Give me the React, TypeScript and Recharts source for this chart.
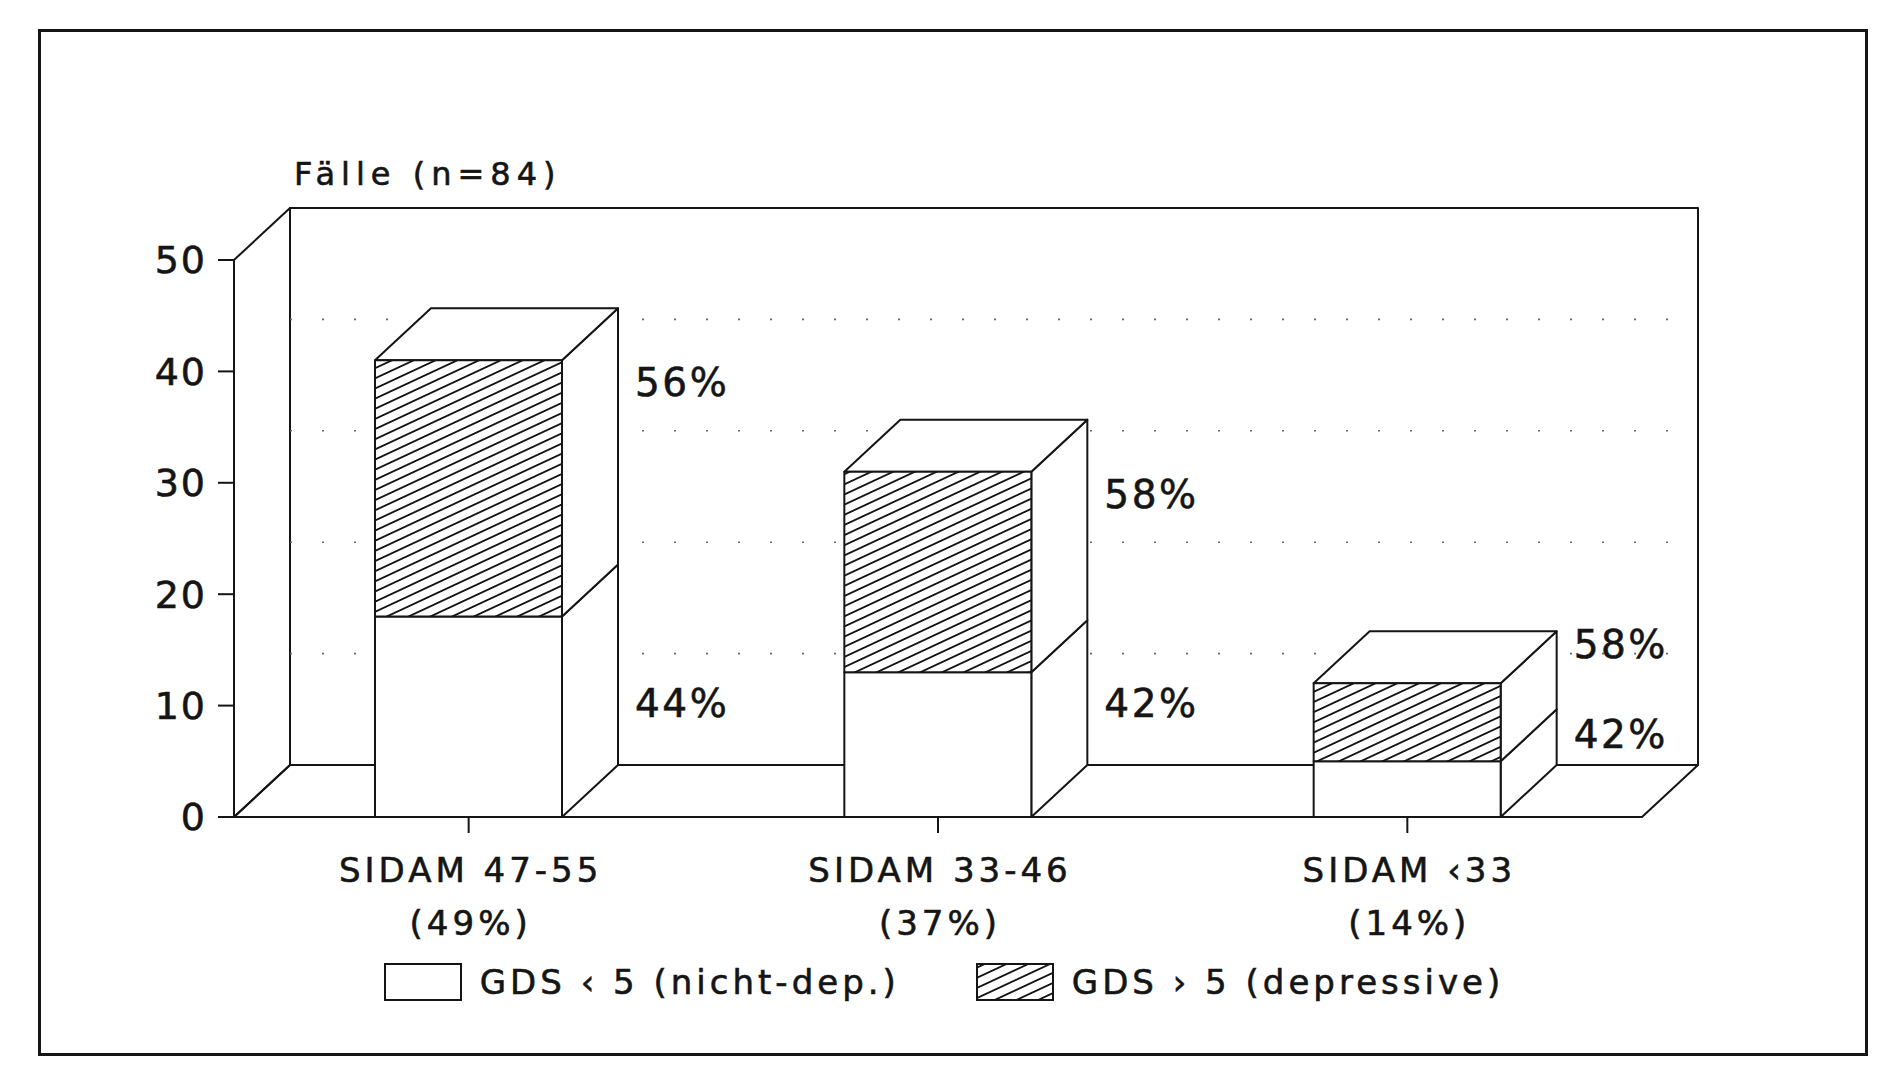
import React from "react";
import {
  BarChart, Bar, XAxis, YAxis, ReferenceArea, ReferenceLine, LabelList, Legend,
} from "recharts";

// Werte aus der Abbildung (Fälle je SIDAM-Gruppe, n = 84)
const categories = ["SIDAM 47-55", "SIDAM 33-46", "SIDAM ‹33"];
const categoryShares = ["(49%)", "(37%)", "(14%)"];
const nichtDep = [18, 13, 5];
const depressive = [23, 18, 7];
const seriesNames = ["GDS ‹ 5 (nicht-dep.)", "GDS › 5 (depressive)"];
const yTicks = [0, 10, 20, 30, 40, 50];
const gridLevels = [10, 20, 30, 40];
const title = "Fälle (n=84)";

const data = categories.map((name, i) => ({
  name,
  nicht: nichtDep[i],
  dep: depressive[i],
}));
const totals = categories.map((_, i) => nichtDep[i] + depressive[i]);

const W = 1902;
const H = 1088;
const DX = 56;   // depth offset of the 3D box
const DY = -52;
const INK = "#151515";
const FONT = "'DejaVu Sans', 'Liberation Sans', sans-serif";
const heavy = { stroke: INK, strokeWidth: 0.6 };

// left wall, back wall, floor + title
function Walls(p: any) {
  const { x, y, width, height } = p;
  const x2 = x + width;
  const y2 = y + height;
  return (
    <g>
      <g stroke={INK} strokeWidth={2} fill="none" strokeLinejoin="round">
        <rect x={x + DX} y={y + DY} width={width} height={height} />
        <polygon points={`${x},${y} ${x + DX},${y + DY} ${x + DX},${y2 + DY} ${x},${y2}`} />
        <polygon points={`${x},${y2} ${x + DX},${y2 + DY} ${x2 + DX},${y2 + DY} ${x2},${y2}`} />
      </g>
      <text x={x + DX + 4} y={y + DY - 23} fontFamily={FONT} fontSize={32}
        letterSpacing={6} fill={INK} {...heavy}>{title}</text>
    </g>
  );
}

function BackGrid(p: any) {
  const { x1, y1, x2, y2 } = p;
  if (x1 == null) return null;
  return (
    <line x1={x1 + DX} y1={y1 + DY} x2={x2 + DX} y2={y2 + DY}
      stroke="#666" strokeWidth={1.6} strokeDasharray="2 30" />
  );
}

const boxShape = (isTop: boolean) => (p: any) => {
  const { x, y, width, height } = p;
  if (!height) return null;
  const r = x + width;
  const b = y + height;
  const side = `${r},${y} ${r + DX},${y + DY} ${r + DX},${b + DY} ${r},${b}`;
  const topFace = `${x},${y} ${x + DX},${y + DY} ${r + DX},${y + DY} ${r},${y}`;
  return (
    <g stroke={INK} strokeWidth={2} strokeLinejoin="round">
      <polygon points={side} fill="#fff" />
      {isTop && <polygon points={topFace} fill="#fff" />}
      <rect x={x} y={y} width={width} height={height} fill={isTop ? "url(#hatch)" : "#fff"} />
    </g>
  );
};

const pctLabel = (isTop: boolean) => (p: any) => {
  const { x, y, width, height, value, index } = p;
  if (!value) return null;
  const unit = height / value;
  const bottom = isTop ? y + height + nichtDep[index] * unit : y + height;
  const totalPx = totals[index] * unit;
  const top = bottom - totalPx;
  let cy: number;
  if (totalPx > 200) {
    cy = isTop ? top + 22 : bottom - 114;
  } else {
    const mid = (top + bottom) / 2 + DY;
    cy = isTop ? mid - 54 : mid + 36;
  }
  const pct = Math.round((value / totals[index]) * 100);
  return (
    <text x={x + width + DX + 17} y={cy + 14} fontFamily={FONT} fontSize={39}
      letterSpacing={2.5} fill={INK} {...heavy}>{`${pct}%`}</text>
  );
};

function CategoryTick(p: any) {
  const { x, y, payload } = p;
  const i = categories.indexOf(payload.value);
  return (
    <text x={x + 2} y={y} textAnchor="middle" fontFamily={FONT} fontSize={34}
      letterSpacing={4} fill={INK} {...heavy}>
      <tspan x={x + 2} dy={47}>{payload.value}</tspan>
      <tspan x={x + 2} dy={53}>{categoryShares[i]}</tspan>
    </text>
  );
}

function LegendContent(p: any) {
  const items = (p.payload && p.payload.length ? p.payload : seriesNames.map((n, i) => ({
    value: n, dataKey: i === 0 ? "nicht" : "dep",
  })));
  return (
    <div style={{ display: "flex", justifyContent: "center", alignItems: "center", gap: 76 }}>
      {items.map((it: any) => (
        <div key={it.dataKey} style={{ display: "flex", alignItems: "center", gap: 18 }}>
          <svg width={78} height={38}>
            <rect x={1} y={1} width={76} height={36}
              fill={it.dataKey === "dep" ? "url(#hatch)" : "#fff"}
              stroke={INK} strokeWidth={2} />
          </svg>
          <span style={{
            fontFamily: FONT, fontSize: 34, letterSpacing: 4, color: INK, lineHeight: 1,
            WebkitTextStroke: `0.6px ${INK}`,
          }}>
            {it.value}
          </span>
        </div>
      ))}
    </div>
  );
}

export default function App() {
  return (
    <div style={{ position: "absolute", left: 0, top: 0, width: W, height: H, background: "#fff" }}>
      <BarChart
        width={W}
        height={H}
        data={data}
        margin={{ top: 260, right: 260, bottom: 211, left: 154 }}
        barSize={187}
      >
        <defs>
          <pattern id="hatch" patternUnits="userSpaceOnUse" width={14} height={9.2}
            patternTransform="rotate(-25)">
            <rect width={14} height={9.2} fill="#fff" />
            <line x1={0} y1={4.6} x2={14} y2={4.6} stroke={INK} strokeWidth={1.8} />
          </pattern>
        </defs>
        <ReferenceArea y1={0} y2={50} shape={Walls} ifOverflow="visible" zIndex={-100} />
        {gridLevels.map((v) => (
          <ReferenceLine key={v} y={v} shape={BackGrid} ifOverflow="visible" zIndex={-90} />
        ))}
        <XAxis
          dataKey="name"
          interval={0}
          height={60}
          tickSize={16}
          tickMargin={2}
          axisLine={{ stroke: INK, strokeWidth: 2 }}
          tickLine={{ stroke: INK, strokeWidth: 2 }}
          tick={<CategoryTick />}
        />
        <YAxis
          domain={[0, 50]}
          ticks={yTicks}
          width={80}
          tickSize={16}
          tickMargin={11}
          axisLine={{ stroke: INK, strokeWidth: 2 }}
          tickLine={{ stroke: INK, strokeWidth: 2 }}
          tick={{ fontFamily: FONT, fontSize: 38, fill: INK, letterSpacing: 2, stroke: INK, strokeWidth: 0.6 }}
        />
        <Legend
          layout="horizontal"
          verticalAlign="middle"
          align="center"
          wrapperStyle={{ left: 240, top: 963, width: 1408 }}
          content={<LegendContent />}
        />
        <Bar dataKey="nicht" name={seriesNames[0]} stackId="s" shape={boxShape(false)}
          isAnimationActive={false}>
          <LabelList dataKey="nicht" content={pctLabel(false)} />
        </Bar>
        <Bar dataKey="dep" name={seriesNames[1]} stackId="s" shape={boxShape(true)}
          isAnimationActive={false}>
          <LabelList dataKey="dep" content={pctLabel(true)} />
        </Bar>
      </BarChart>
      <div style={{
        position: "absolute", left: 38, top: 29, width: 1830, height: 1027,
        border: `3px solid ${INK}`, boxSizing: "border-box", pointerEvents: "none",
      }} />
    </div>
  );
}
